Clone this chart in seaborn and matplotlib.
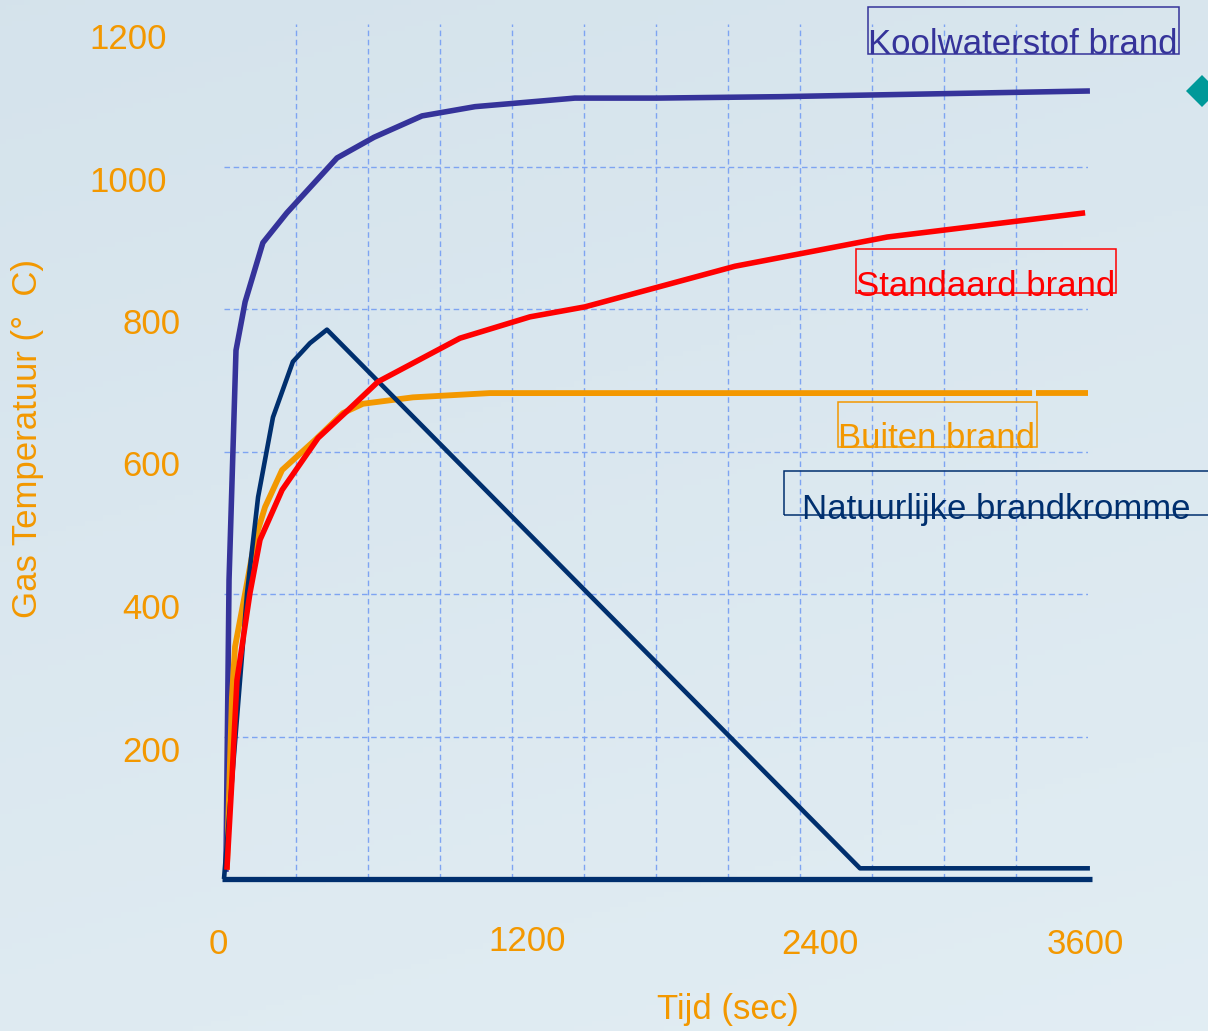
import numpy as np
import pandas as pd
import matplotlib
matplotlib.use("Agg")
import matplotlib.pyplot as plt
from matplotlib.patches import Polygon, Rectangle
from matplotlib.transforms import ScaledTranslation
import seaborn as sns

# ---- data: gas temperature (°C) against time (s) ----
kw_tijd = [8, 21, 50, 88, 162, 262, 471, 625, 825, 1046, 1462, 1804, 2317, 3608]
kw_temp = [10, 420, 742, 810, 893, 935, 1012, 1041, 1071, 1084, 1096, 1096, 1098, 1106]

st_tijd = [12, 33, 54, 108, 150, 242, 392, 504, 642, 983, 1275, 1504, 2129, 2763, 3588]
st_temp = [13, 139, 279, 401, 476, 546, 619, 654, 698, 759, 789, 803, 860, 901, 935]

bb_tijd = [12, 33, 46, 88, 129, 171, 242, 379, 496, 579, 787, 1108, 3367]
bb_temp = [13, 255, 326, 401, 476, 522, 574, 616, 654, 667, 676, 682, 682]
bb2_tijd = [3383, 3600]
bb2_temp = [682, 682]

nf_tijd = [0, 96, 142, 204, 287, 358, 429, 2650, 3608]
nf_temp = [0, 401, 536, 648, 726, 752, 771, 15, 15]

x_ticks = [0, 1200, 2400, 3600]
y_ticks = [200, 400, 600, 800, 1000, 1200]
x_grid = list(range(300, 3600, 300))
y_grid = [200, 400, 600, 800, 1000]

series_labels = ["Koolwaterstof brand", "Standaard brand", "Buiten brand",
                 "Natuurlijke brandkromme"]

# ---- style ----
C_KW = "#35339a"
C_ST = "#ff0000"
C_BB = "#f39800"
C_NF = "#002f6e"
C_TXT = "#f39800"
C_GRID = "#7ea4f2"
FONT = "Liberation Sans"
FS = 25

sns.set_theme(style="white")
plt.rcParams["font.family"] = [FONT, "DejaVu Sans"]

W, H = 1208, 1031
fig = plt.figure(figsize=(W / 100, H / 100), dpi=100)


def fx(px):
    return px / W


def fy(py):
    return 1 - py / H


# soft light-blue backdrop
bg = fig.add_axes([0, 0, 1, 1], zorder=-10)
gy, gx = np.mgrid[0:1:200j, 0:1:200j]
top = np.array([0.835, 0.890, 0.925])
bot = np.array([0.885, 0.930, 0.955])
mix = (0.75 * gy + 0.25 * gx)[..., None]
img = top * (1 - mix) + bot * mix
bg.imshow(img, aspect="auto", extent=[0, 1, 0, 1], origin="upper")
bg.set_axis_off()

ax = fig.add_axes([fx(224), fy(879), fx(1088) - fx(224), fy(24) - fy(879)])
ax.patch.set_alpha(0)
ax.set_xlim(0, 3600)
ax.set_ylim(0, 1200)
for s in ax.spines.values():
    s.set_visible(False)

# dashed grid
for v in x_grid:
    ax.axvline(v, color=C_GRID, lw=1.0, ls=(0, (4, 2.6)), zorder=1)
for v in y_grid:
    ax.axhline(v, color=C_GRID, lw=1.0, ls=(0, (4, 2.6)), zorder=1)

common = dict(ax=ax, sort=False, estimator=None, clip_on=False,
              solid_capstyle="butt", solid_joinstyle="round")
sns.lineplot(x=kw_tijd, y=kw_temp, color=C_KW, linewidth=4.0, zorder=3, **common)
sns.lineplot(x=bb_tijd, y=bb_temp, color=C_BB, linewidth=4.2, zorder=4, **common)
sns.lineplot(x=bb2_tijd, y=bb2_temp, color=C_BB, linewidth=4.2, zorder=4, **common)
sns.lineplot(x=nf_tijd, y=nf_temp, color=C_NF, linewidth=3.3, zorder=5, **common)
sns.lineplot(x=st_tijd, y=st_temp, color=C_ST, linewidth=4.0, zorder=6, **common)

# base line along the time axis
ax.plot([-8, 3617], [0, 0], color=C_NF, lw=3.8, clip_on=False, zorder=5,
        solid_capstyle="butt")

# ticks
ax.set_xticks(x_ticks)
ax.set_xticklabels([str(v) for v in x_ticks])
ax.set_yticks(y_ticks)
ax.set_yticklabels([str(v) for v in y_ticks])
ax.tick_params(axis="both", length=0, labelsize=FS, labelcolor=C_TXT)
ax.tick_params(axis="x", pad=35)
ax.tick_params(axis="y", pad=31.5)

px = 72 / 100  # points per pixel
x_shift = {0: (-6, 0), 1200: (15, 3), 2400: (20, 0), 3600: (-3, 0)}
for v, lab in zip(x_ticks, ax.get_xticklabels()):
    dx, dy = x_shift[v]
    lab.set_transform(lab.get_transform() +
                      ScaledTranslation(dx * px / 72, dy * px / 72, fig.dpi_scale_trans))
for v, lab in zip(y_ticks, ax.get_yticklabels()):
    dx = -13 if v >= 1000 else 0
    lab.set_transform(lab.get_transform() +
                      ScaledTranslation(dx * px / 72, -12 * px / 72, fig.dpi_scale_trans))

# axis titles
ax.set_xlabel("Tijd (sec)", fontsize=FS, color=C_TXT)
ax.set_ylabel("Gas Temperatuur (°  C)", fontsize=FS, color=C_TXT)
ax.xaxis.label.set_verticalalignment("center")
ax.yaxis.label.set_verticalalignment("center")
ax.xaxis.set_label_coords((728 - 224) / 864, (879 - 1010) / 855)
ax.yaxis.set_label_coords((28 - 224) / 864, (879 - 438) / 855)

# boxed series labels
boxes = [
    (series_labels[0], C_KW, (868, 7, 1179, 54), (868, 54)),
    (series_labels[1], C_ST, (856, 249, 1116, 293), (856, 296)),
    (series_labels[2], C_BB, (838, 402, 1037, 447), (838, 448)),
    (series_labels[3], C_NF, (784, 471, 1220, 515), (802, 519)),
]
for text, col, (x0, y0, x1, y1), (tx, ty) in boxes:
    fig.add_artist(Rectangle((fx(x0), fy(y1)), fx(x1) - fx(x0), fy(y0) - fy(y1),
                             transform=fig.transFigure, fill=False,
                             edgecolor=col, lw=1.1, zorder=8))
    fig.text(fx(tx), fy(ty), text, color=col, fontsize=FS, ha="left",
             va="baseline", zorder=9)

# small teal diamond at the right edge
cx, cy, r = 1202, 91, 16
fig.add_artist(Polygon([(fx(cx - r), fy(cy)), (fx(cx), fy(cy - r)),
                        (fx(cx + r), fy(cy)), (fx(cx), fy(cy + r))],
                       closed=True, transform=fig.transFigure,
                       facecolor="#009999", edgecolor="none", zorder=8))

fig.savefig("out.png", dpi=100)
